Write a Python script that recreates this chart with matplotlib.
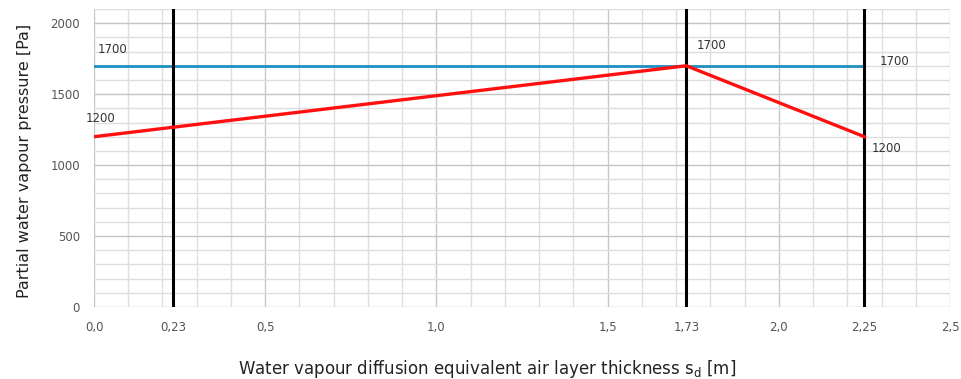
import numpy as np
import matplotlib.pyplot as plt

# layer boundaries (sd values) and pressures
boundaries = [0.23, 1.73, 2.25]
sat_x = [0.0, 2.25]
sat_p = [1700, 1700]
vap_x = [0.0, 1.73, 2.25]
vap_p = [1200, 1700, 1200]
xticks = [0.0, 0.23, 0.5, 1.0, 1.5, 1.73, 2.0, 2.25, 2.5]
xticklabels = ['0,0', '0,23', '0,5', '1,0', '1,5', '1,73', '2,0', '2,25', '2,5']
yticks = [0, 500, 1000, 1500, 2000]

plt.rcParams['font.family'] = ['DejaVu Sans']

fig = plt.figure(figsize=(9.61, 3.79), dpi=100)
ax = fig.add_axes([94 / 961, 1 - 307 / 379, 856 / 961, 298 / 379])

ax.set_xlim(0, 2.5)
ax.set_ylim(0, 2100)

# grid
for x in np.arange(0, 2.51, 0.1):
    c = '#c8c8c8' if abs(x / 0.5 - round(x / 0.5)) < 1e-6 else '#dedede'
    ax.axvline(x, color=c, lw=1.0, zorder=0)
for y in range(0, 2101, 100):
    c = '#c4c4c4' if y % 500 == 0 else '#dedede'
    ax.axhline(y, color=c, lw=1.0, zorder=0)

for s in ax.spines.values():
    s.set_visible(False)

for b in boundaries:
    ax.axvline(b, color='black', lw=2.2, zorder=3)

ax.plot(sat_x, sat_p, color='#1f8fc0', lw=2, zorder=2)
ax.plot(vap_x, vap_p, color='#ff1010', lw=2.4, zorder=4)

lbl = dict(fontsize=8.5, color='#333333', ha='left')
ax.text(0.01, 1770, '1700', va='bottom', **lbl)
ax.text(-0.025, 1280, '1200', va='bottom', **lbl)
ax.text(1.76, 1800, '1700', va='bottom', **lbl)
ax.text(2.295, 1730, '1700', va='center', **lbl)
ax.text(2.27, 1120, '1200', va='center', **lbl)

ax.set_xticks(xticks)
ax.set_xticklabels(xticklabels)
ax.set_yticks(yticks)
ax.tick_params(length=0, labelsize=8.5, colors='#555555', pad=10)

ax.set_ylabel('Partial water vapour pressure [Pa]', fontsize=11.5, color='#222222')
ax.yaxis.set_label_coords(-0.072, 0.49)
ax.set_xlabel('Water vapour diffusion equivalent air layer thickness s$_\\mathregular{d}$ [m]',
              fontsize=12, color='#222222')
ax.xaxis.set_label_coords(0.459, -0.17)

fig.savefig('out.png', dpi=100)
